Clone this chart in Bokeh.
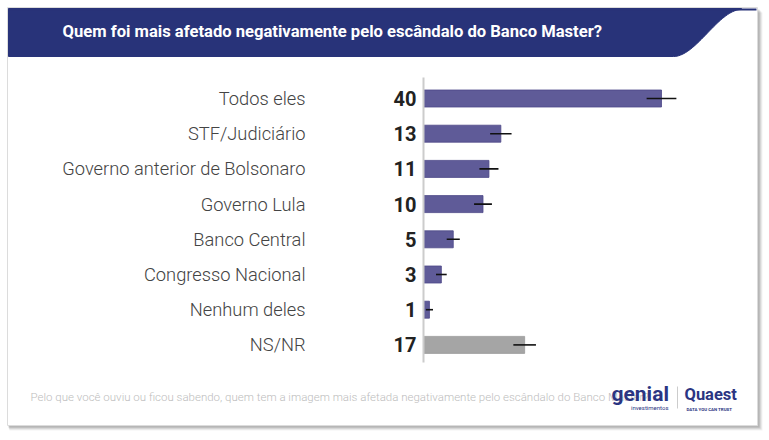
import numpy as np
from bokeh.plotting import figure
from bokeh.models import ColumnDataSource, Range1d
from bokeh.core.properties import value
from bokeh.embed import file_html
from bokeh.resources import INLINE

# ---------------- data ----------------
title = "Quem foi mais afetado negativamente pelo escândalo do Banco Master?"
footnote = ("Pelo que você ouviu ou ficou sabendo, quem tem a imagem mais afetada "
            "negativamente pelo escândalo do Banco Master?")
categories = ["Todos eles", "STF/Judiciário", "Governo anterior de Bolsonaro",
              "Governo Lula", "Banco Central", "Congresso Nacional",
              "Nenhum deles", "NS/NR"]
values = [40, 13, 11, 10, 5, 3, 1, 17]
margins = [2.5, 1.8, 1.6, 1.5, 1.1, 0.9, 0.6, 1.9]

# ---------------- layout ----------------
W, H = 769, 440
X0 = 423.0        # px of value 0
PX = 5.95         # px per percentage point
Y0 = 98.0         # px (from top) of first category
ROW = 35.2        # px per category row

def fx(px):
    return (px - X0) / PX

def fy(py):
    return -(py - Y0) / ROW

NAVY = "#283379"
PURPLE = "#5f5b98"
PURPLE_LINE = "#4c4888"
GRAY = "#a5a5a5"
FONT = "Roboto"
LIGHT = "Roboto Light"

p = figure(width=W, height=H, output_backend="svg", toolbar_location=None,
           x_range=Range1d(fx(0), fx(W)), y_range=Range1d(fy(H), fy(0)),
           min_border=0, x_axis_location=None, y_axis_location=None,
           outline_line_color=None, background_fill_color="white",
           border_fill_color="white")
p.grid.visible = False

# card shadow + card
CL, CR, CT, CB = 7, 757, 7, 425
for off, a in [(5, 0.05), (4, 0.07), (3, 0.09), (2, 0.1)]:
    p.quad(left=[fx(CL + off * 0.4)], right=[fx(CR + off)], top=[fy(CT + off)],
           bottom=[fy(CB + off)], fill_color="black", fill_alpha=a, line_color=None)
p.quad(left=[fx(CL)], right=[fx(CR)], top=[fy(CT)], bottom=[fy(CB)],
       fill_color="white", line_color="#dcdcdc", line_width=1)

# header band with curved right edge
t = np.linspace(0, 1, 40)
s = t * t * (3 - 2 * t)
cx = 741 - (741 - 673) * t
cy = 9 + 47 * s
bx = [8, 741] + list(cx) + [8]
by = [8, 8] + list(cy) + [56]
p.patch([fx(v) for v in bx], [fy(v) for v in by], fill_color=NAVY, line_color=NAVY,
        line_width=1)
p.segment(x0=[fx(8)], x1=[fx(756)], y0=[fy(9)], y1=[fy(9)], line_color=NAVY,
          line_width=2)
p.text(x=[fx(62)], y=[fy(31)], text=[title], text_color="white",
       text_font=value(FONT), text_font_style="bold", text_font_size="16.6px",
       text_baseline="middle", text_align="left")

# ---------------- bars ----------------
ys = [-i for i in range(len(categories))]
bar_colors = [GRAY if c == "NS/NR" else PURPLE for c in categories]
line_colors = ["#9a9a9a" if c == "NS/NR" else PURPLE_LINE for c in categories]
src = ColumnDataSource(dict(
    y=ys, cat=categories, val=values, lo=[v - m for v, m in zip(values, margins)],
    hi=[v + m for v, m in zip(values, margins)], lbl=[str(v) for v in values],
    fill=bar_colors, line=line_colors))

p.hbar(y="y", left=0, right="val", height=17 / ROW, source=src,
       fill_color="fill", line_color="line", line_width=0.8)
p.segment(x0="lo", x1="hi", y0="y", y1="y", source=src, line_color="#111111",
          line_width=1.6)

# axis line
p.segment(x0=[0], x1=[0], y0=[fy(77)], y1=[fy(362)], line_color="#cccccc",
          line_width=2)

# value labels
p.text(x=0, y="y", text="lbl", source=src, x_offset=-7, text_align="right",
       text_baseline="middle", text_font=value(FONT), text_font_style="bold",
       text_font_size="20px", text_color="#222222")
# category labels
p.text(x=fx(305), y="y", text="cat", source=src, text_align="right",
       text_baseline="middle", text_font=value(LIGHT), text_font_size="18.3px",
       text_color="#444444")

# footer
p.text(x=[fx(30)], y=[fy(396)], text=[footnote], text_font=value(LIGHT),
       text_font_size="11.5px", text_color="#bdbdbd", text_baseline="middle")

# logos
p.text(x=[fx(611)], y=[fy(393)], text=["genial"], text_font=value(FONT),
       text_font_style="bold", text_font_size="21px", text_color="#2b3582",
       text_baseline="middle")
p.text(x=[fx(668)], y=[fy(406.5)], text=["investimentos"], text_font=value(FONT),
       text_font_size="6px", text_color="#2b3582", text_baseline="middle",
       text_align="right")
p.segment(x0=[fx(677)], x1=[fx(677)], y0=[fy(386)], y1=[fy(408)],
          line_color="#cccccc", line_width=1)
p.text(x=[fx(684)], y=[fy(394)], text=["Quaest"], text_font=value(FONT),
       text_font_style="bold", text_font_size="16.5px", text_color="#2b3582",
       text_baseline="middle")
p.text(x=[fx(686)], y=[fy(409)], text=["DATA YOU CAN TRUST"], text_font=value(FONT),
       text_font_style="bold", text_font_size="4.4px", text_color="#2b3582",
       text_baseline="middle")

open("out.html", "w").write(file_html(p, INLINE))
